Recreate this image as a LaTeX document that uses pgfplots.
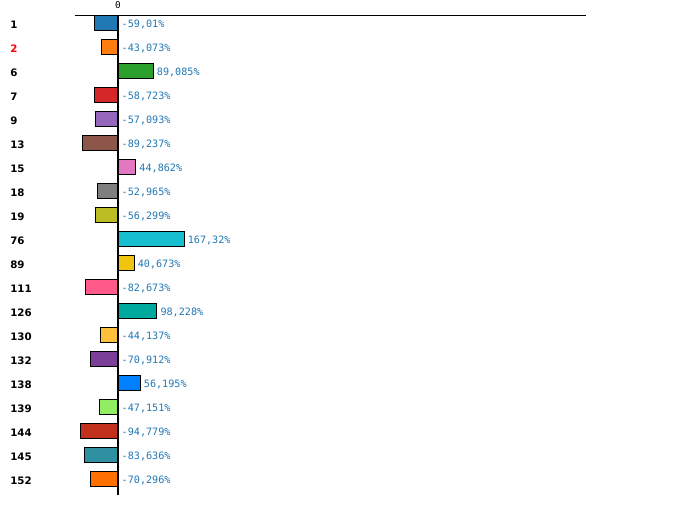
\documentclass[border=0pt]{standalone}
\usepackage{pgfplots}
\pgfplotsset{compat=1.18}
\usepackage{fontspec}
\newfontfamily\catfont{DejaVu Sans}
\newfontfamily\monofont{DejaVu Sans Mono}
\definecolor{c1}{HTML}{1F77B4}
\definecolor{c2}{HTML}{FF7F0E}
\definecolor{c3}{HTML}{2CA02C}
\definecolor{c4}{HTML}{D62728}
\definecolor{c5}{HTML}{9467BD}
\definecolor{c6}{HTML}{8C564B}
\definecolor{c7}{HTML}{E377C2}
\definecolor{c8}{HTML}{7F7F7F}
\definecolor{c9}{HTML}{BCBD22}
\definecolor{c10}{HTML}{17BECF}
\definecolor{c11}{HTML}{F1C40F}
\definecolor{c12}{HTML}{FF5A8A}
\definecolor{c13}{HTML}{00A99D}
\definecolor{c14}{HTML}{FFC13B}
\definecolor{c15}{HTML}{7B3F99}
\definecolor{c16}{HTML}{0080FF}
\definecolor{c17}{HTML}{90EE60}
\definecolor{c18}{HTML}{C0301C}
\definecolor{c19}{HTML}{2E90A0}
\definecolor{c20}{HTML}{FF7000}
\definecolor{lblue}{HTML}{1F77B4}
\begin{document}
\begin{tikzpicture}
\path[use as bounding box] (0,0) rectangle (525pt,393.75pt);
\begin{axis}[
  at={(56.25pt,22.5pt)}, anchor=south west,
  scale only axis, width=383.25pt, height=360pt,
  xmin=-108.9, xmax=1184.8,
  ymin=-0.3333, ymax=19.6667, y dir=reverse,
  axis x line*=top, axis y line*=left,
  x axis line style={line width=0.75pt, -},
  y axis line style={draw=none},
  xtick={0}, xtick style={draw=none},
  /pgf/number format/assume math mode=true,
  xticklabel style={font=\monofont\fontsize{7}{7}\selectfont, inner sep=0pt, yshift=4.6pt},
  ytick={0,...,19}, ytick style={draw=none},
  yticklabels={1,{\textcolor{red}{2}},6,7,9,13,15,18,19,76,89,111,126,130,132,138,139,144,145,152},
  yticklabel style={font=\catfont\bfseries\fontsize{7.7}{7.7}\selectfont, anchor=west, inner sep=0pt, xshift=-48.75pt, yshift=-1pt},
  clip=false,
  mybar/.style={xbar, bar width=10.9pt, bar shift=0pt, draw=black, line width=0.75pt},
]
\addplot[mybar, fill=c1] coordinates {(-59.01,0)};
\addplot[mybar, fill=c2] coordinates {(-43.073,1)};
\addplot[mybar, fill=c3] coordinates {(89.085,2)};
\addplot[mybar, fill=c4] coordinates {(-58.723,3)};
\addplot[mybar, fill=c5] coordinates {(-57.093,4)};
\addplot[mybar, fill=c6] coordinates {(-89.237,5)};
\addplot[mybar, fill=c7] coordinates {(44.862,6)};
\addplot[mybar, fill=c8] coordinates {(-52.965,7)};
\addplot[mybar, fill=c9] coordinates {(-56.299,8)};
\addplot[mybar, fill=c10] coordinates {(167.32,9)};
\addplot[mybar, fill=c11] coordinates {(40.673,10)};
\addplot[mybar, fill=c12] coordinates {(-82.673,11)};
\addplot[mybar, fill=c13] coordinates {(98.228,12)};
\addplot[mybar, fill=c14] coordinates {(-44.137,13)};
\addplot[mybar, fill=c15] coordinates {(-70.912,14)};
\addplot[mybar, fill=c16] coordinates {(56.195,15)};
\addplot[mybar, fill=c17] coordinates {(-47.151,16)};
\addplot[mybar, fill=c18] coordinates {(-94.779,17)};
\addplot[mybar, fill=c19] coordinates {(-83.636,18)};
\addplot[mybar, fill=c20] coordinates {(-70.296,19)};
\draw[line width=1.5pt] (axis cs:0,-0.3333) -- (axis cs:0,19.6667);
\addplot[draw=none, mark=none, point meta=explicit symbolic,
  nodes near coords,
  every node near coord/.style={anchor=west, inner sep=0pt, xshift=2.6pt, yshift=-0.9pt, text=lblue, font=\monofont\fontsize{7.6}{7.6}\selectfont}]
  coordinates {
  (0,0) [-59,01\%]
  (0,1) [-43,073\%]
  (89.085,2) [89,085\%]
  (0,3) [-58,723\%]
  (0,4) [-57,093\%]
  (0,5) [-89,237\%]
  (44.862,6) [44,862\%]
  (0,7) [-52,965\%]
  (0,8) [-56,299\%]
  (167.32,9) [167,32\%]
  (40.673,10) [40,673\%]
  (0,11) [-82,673\%]
  (98.228,12) [98,228\%]
  (0,13) [-44,137\%]
  (0,14) [-70,912\%]
  (56.195,15) [56,195\%]
  (0,16) [-47,151\%]
  (0,17) [-94,779\%]
  (0,18) [-83,636\%]
  (0,19) [-70,296\%]
  };
\end{axis}
\end{tikzpicture}
\end{document}
